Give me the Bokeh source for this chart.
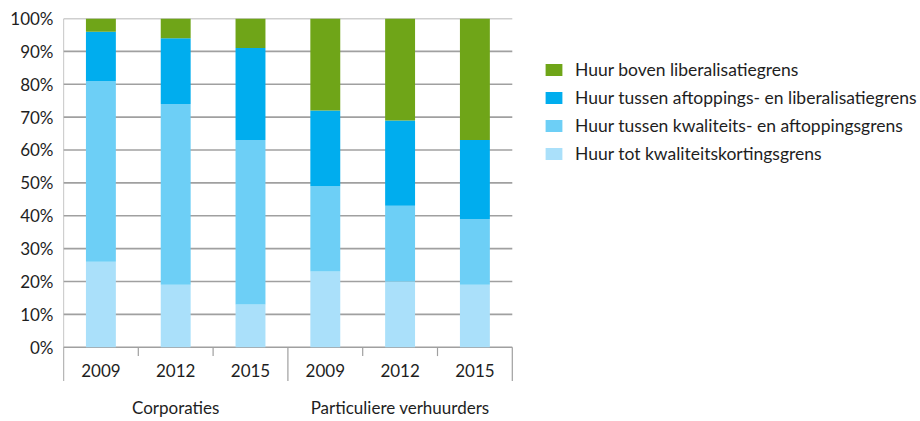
from bokeh.plotting import figure
from bokeh.models import Range1d, FixedTicker, Legend, LegendItem, ColumnDataSource
from bokeh.core.properties import value
from bokeh.embed import file_html
from bokeh.resources import INLINE

# ---- data ----
groups = ["Corporaties", "Particuliere verhuurders"]
years = ["2009", "2012", "2015"]
categories = [(g, y) for g in groups for y in years]

series = [
    "Huur tot kwaliteitskortingsgrens",
    "Huur tussen kwaliteits- en aftoppingsgrens",
    "Huur tussen aftoppings- en liberalisatiegrens",
    "Huur boven liberalisatiegrens",
]
tot_kwaliteit = [26, 19, 13, 23, 20, 19]
kwaliteit_aftopping = [55, 55, 50, 26, 23, 20]
aftopping_liberalisatie = [15, 20, 28, 23, 26, 24]
boven_liberalisatie = [4, 6, 9, 28, 31, 37]

y_ticks = [0, 10, 20, 30, 40, 50, 60, 70, 80, 90, 100]
y_tick_labels = ["0%", "10%", "20%", "30%", "40%", "50%", "60%", "70%", "80%", "90%", "100%"]

colors = ["#aae0fa", "#6dcff6", "#00adee", "#6fa518"]
line_col = "#a0a0a0"
text_col = "#1e1e1e"
FONT = "Lato"
FS = "17px"

# ---- layout constants ----
n = len(categories)
px_per_x = 74.8
W, H = 918, 419
left, top = 63, 18
frame_w = W - left
x_end = frame_w / px_per_x
px_per_y = 3.287
y_start = -(H - top - 100 * px_per_y) / px_per_y

xs = [i + 0.5 for i in range(n)]
src = ColumnDataSource(dict(
    x=xs,
    s0=tot_kwaliteit,
    s1=kwaliteit_aftopping,
    s2=aftopping_liberalisatie,
    s3=boven_liberalisatie,
))

p = figure(width=W, height=H, output_backend="svg", toolbar_location=None,
           x_range=Range1d(0, x_end), y_range=Range1d(y_start, 100),
           x_axis_location=None, min_border_left=left, min_border_right=0,
           min_border_top=top, min_border_bottom=0)
p.outline_line_color = None
p.grid.visible = False

# gridlines (only across the bar area)
p.segment(x0=[0] * len(y_ticks), x1=[n] * len(y_ticks), y0=y_ticks, y1=y_ticks,
          line_color=line_col, line_width=1.6)

# bars
renderers = p.vbar_stack(["s0", "s1", "s2", "s3"], x="x", width=0.4, source=src,
                         fill_color=colors, line_color=None)

# category axis drawn by hand
long_drop = -10.3
short_drop = -2.7
bounds = list(range(n + 1))
long_b = [b for b in bounds if b % len(years) == 0]
short_b = [b for b in bounds if b % len(years) != 0]
p.segment(x0=[0], x1=[0], y0=[100], y1=[long_drop], line_color=line_col, line_width=1.2)
p.segment(x0=long_b, x1=long_b, y0=[0] * len(long_b), y1=[long_drop] * len(long_b),
          line_color=line_col, line_width=1.2)
p.segment(x0=short_b, x1=short_b, y0=[0] * len(short_b), y1=[short_drop] * len(short_b),
          line_color=line_col, line_width=1.2)

p.text(x=xs, y=[-7.1] * n, text=[c[1] for c in categories], text_align="center",
       text_baseline="middle", text_font=value(FONT), text_font_size=FS,
       text_color=text_col)
gx = [sum(xs[i * len(years):(i + 1) * len(years)]) / len(years) for i in range(len(groups))]
p.text(x=gx, y=[-18.4] * len(groups), text=groups, text_align="center",
       text_baseline="middle", text_font=value(FONT), text_font_size=FS,
       text_color=text_col)

# y axis
yax = p.yaxis[0]
yax.ticker = FixedTicker(ticks=y_ticks)
yax.major_label_overrides = {t: l for t, l in zip(y_ticks, y_tick_labels)}
yax.axis_line_color = None
yax.major_tick_line_color = None
yax.minor_tick_line_color = None
yax.major_tick_out = 0
yax.major_label_standoff = 10
yax.major_label_text_font = FONT
yax.major_label_text_font_size = FS
yax.major_label_text_color = text_col

# legend
items = [LegendItem(label=s, renderers=[r]) for s, r in zip(series, renderers)][::-1]
legend = Legend(items=items, location=(480, 255), padding=0, margin=0,
                border_line_color=None, background_fill_alpha=0,
                glyph_width=21, glyph_height=15, label_height=15, spacing=7,
                label_standoff=11, label_text_font=FONT, label_text_font_size="17.5px",
                label_text_color=text_col)
p.add_layout(legend)

open("out.html", "w").write(file_html(p, INLINE))
